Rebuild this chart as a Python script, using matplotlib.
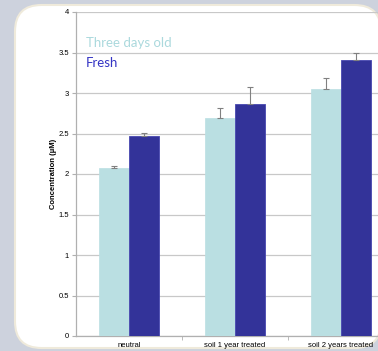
import matplotlib
matplotlib.use("Agg")
import matplotlib.pyplot as plt
from matplotlib.patches import FancyBboxPatch
import numpy as np

categories = ["neutral", "soil 1 year treated", "soil 2 years treated"]
three_days_old = [2.07, 2.69, 3.05]
fresh = [2.465, 2.87, 3.41]
err_three = [0.03, 0.12, 0.14]
err_fresh = [0.045, 0.21, 0.08]
yticks = [0, 0.5, 1, 1.5, 2, 2.5, 3, 3.5, 4]
ytick_labels = ["0", "0.5", "1", "1.5", "2", "2.5", "3", "3.5", "4"]

W, H = 378, 351
fig = plt.figure(figsize=(W / 100, H / 100), dpi=100)
fig.patch.set_facecolor("#cdd2dd")

# white rounded panel
panel = FancyBboxPatch((15 / W, 3 / H), (381 - 15) / W, (346 - 3) / H,
                       boxstyle="round,pad=0,rounding_size=0.07",
                       transform=fig.transFigure, facecolor="white",
                       edgecolor="#efeadb", linewidth=1.5, zorder=-5,
                       mutation_aspect=W / H)
fig.patches.append(panel)

ax = fig.add_axes([76 / W, (H - 336) / H, (394 - 76) / W, (336 - 12) / H])
ax.set_zorder(2)
ax.set_facecolor("none")

x = np.arange(len(categories))
bw = 0.283
light = "#badfe2"
dark = "#333399"
ax.bar(x - bw / 2, three_days_old, bw, color=light, zorder=3, edgecolor=light, linewidth=0.5)
ax.bar(x + bw / 2, fresh, bw, color=dark, zorder=3, edgecolor="#4747b0", linewidth=0.6)
ax.errorbar(x - bw / 2, three_days_old, yerr=[[0] * 3, err_three], fmt="none",
            ecolor="#808080", elinewidth=0.8, capsize=2, capthick=0.8, zorder=4)
ax.errorbar(x + bw / 2, fresh, yerr=[[0] * 3, err_fresh], fmt="none",
            ecolor="#808080", elinewidth=0.8, capsize=2, capthick=0.8, zorder=4)

ax.set_xlim(-0.5, 2.5)
ax.set_ylim(0, 4)
ax.set_yticks(yticks)
ax.set_yticklabels(ytick_labels, fontsize=5.5, family="Liberation Sans")
ax.set_xticks(x)
ax.set_xticklabels(categories, fontsize=5.5, family="Liberation Sans")
ax.set_xticks([0.5, 1.5], minor=True)
ax.tick_params(axis="x", which="major", length=0, pad=4)
ax.tick_params(axis="x", which="minor", length=3, color="#b0b0b0")
ax.tick_params(axis="y", length=3, color="#b0b0b0", pad=2)
ax.grid(axis="y", color="#c8c8c8", linewidth=0.9, zorder=0)
for s in ["top", "right"]:
    ax.spines[s].set_visible(False)
for s in ["left", "bottom"]:
    ax.spines[s].set_color("#b0b0b0")
    ax.spines[s].set_linewidth(0.9)

ax.set_ylabel("Concentration (\u00b5M)", fontsize=5.5, fontweight="bold",
              family="Liberation Sans", labelpad=1)

fig.text(86 / W, 1 - 43 / H, "Three days old", color="#abd9dd", fontsize=9.5,
         family="Lato", va="center", ha="left")
fig.text(86 / W, 1 - 63 / H, "Fresh", color="#3434c4", fontsize=9.5,
         family="Lato", va="center", ha="left")

fig.savefig("out.png", dpi=100)
